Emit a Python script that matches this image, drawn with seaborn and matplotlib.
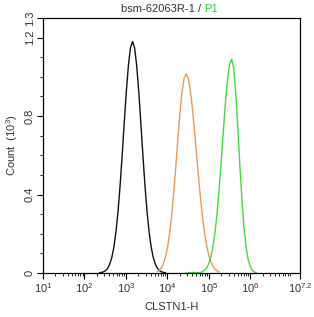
import matplotlib
matplotlib.use("Agg")
import matplotlib.pyplot as plt
import numpy as np
import pandas as pd
import seaborn as sns
from matplotlib.ticker import FixedLocator, LogLocator, MultipleLocator, NullFormatter

TEXT_COLOR = "#333333"
COLORS = {"black": "#111111", "orange": "#eb9a58", "green": "#40dc40"}

# log10 intensity positions and counts (x 10^3)
black_log = [2.36, 2.41, 2.46, 2.51, 2.56, 2.61, 2.66, 2.71, 2.76, 2.81, 2.86, 2.91, 2.96,
             3.01, 3.06, 3.11, 3.16, 3.21, 3.26, 3.31, 3.36, 3.41, 3.46, 3.51, 3.56,
             3.61, 3.66, 3.71, 3.76, 3.81, 3.86, 3.91, 3.96]
black_count = [0.001, 0.003, 0.006, 0.012, 0.024, 0.045, 0.079, 0.132, 0.209, 0.314, 0.446,
               0.601, 0.766, 0.925, 1.058, 1.148, 1.18, 1.148, 1.058, 0.925, 0.766, 0.601,
               0.446, 0.314, 0.209, 0.132, 0.079, 0.045, 0.024, 0.012, 0.006, 0.003, 0.001]

orange_log = [3.75, 3.80, 3.85, 3.90, 3.95, 4.00, 4.05, 4.10, 4.15, 4.20, 4.25, 4.30, 4.35,
              4.40, 4.45, 4.50, 4.55, 4.60, 4.65, 4.70, 4.75, 4.80, 4.85, 4.90, 4.95,
              5.00, 5.05, 5.10, 5.15, 5.20, 5.25]
orange_count = [0.006, 0.013, 0.024, 0.045, 0.077, 0.125, 0.194, 0.286, 0.401, 0.532, 0.672,
                0.805, 0.916, 0.99, 1.015, 0.995, 0.937, 0.848, 0.737, 0.616, 0.494, 0.381,
                0.282, 0.201, 0.137, 0.090, 0.057, 0.035, 0.020, 0.011, 0.006]

green_log = [4.45, 4.55, 4.65, 4.75, 4.80, 4.85, 4.90, 4.95, 5.00, 5.05, 5.10, 5.15, 5.20,
             5.25, 5.30, 5.35, 5.40, 5.45, 5.50, 5.55, 5.60, 5.65, 5.70, 5.75, 5.80,
             5.85, 5.90, 5.95, 6.00, 6.05, 6.10, 6.15]
green_count = [0.0, 0.002, 0.003, 0.0015, 0.003, 0.007, 0.014, 0.026, 0.048, 0.083, 0.134,
               0.208, 0.307, 0.431, 0.571, 0.722, 0.864, 0.983, 1.063, 1.09, 1.044, 0.917,
               0.739, 0.545, 0.370, 0.230, 0.131, 0.069, 0.033, 0.014, 0.005, 0.002]

x_tick_pos = [1, 2, 3, 4, 5, 6, 7.2]
x_tick_labels = ["$10^{1}$", "$10^{2}$", "$10^{3}$", "$10^{4}$", "$10^{5}$", "$10^{6}$", "$10^{7.2}$"]
y_tick_pos = [0, 0.4, 0.8, 1.2, 1.3]
y_tick_labels = ["0", "0.4", "0.8", "1.2", "1.3"]

sns.set_theme(style="ticks")
plt.rcParams["font.family"] = ["Liberation Sans", "DejaVu Sans"]
plt.rcParams["mathtext.fontset"] = "custom"
plt.rcParams["mathtext.rm"] = "Liberation Sans"
plt.rcParams["mathtext.it"] = "Liberation Sans"

frames = []
for name, lg, cnt in [("black", black_log, black_count),
                      ("orange", orange_log, orange_count),
                      ("green", green_log, green_count)]:
    frames.append(pd.DataFrame({"intensity": 10 ** np.array(lg), "count": cnt, "sample": name}))
df = pd.concat(frames, ignore_index=True)

fig = plt.figure(figsize=(3.14, 3.17), dpi=100)
ax = fig.add_axes([43 / 314, 44 / 317, 257 / 314, 255 / 317])

sns.lineplot(data=df, x="intensity", y="count", hue="sample", palette=COLORS,
             linewidth=1.0, legend=False, ax=ax, sort=True)

ax.set_xscale("log")
ax.set_xlim(10 ** 1, 10 ** 7.2)
ax.set_ylim(0, 1.3)

ax.xaxis.set_major_locator(FixedLocator([10 ** p for p in x_tick_pos]))
ax.set_xticklabels(x_tick_labels)
ax.xaxis.set_minor_locator(LogLocator(base=10, subs=np.arange(2, 10), numticks=20))
ax.xaxis.set_minor_formatter(NullFormatter())

ax.yaxis.set_major_locator(FixedLocator(y_tick_pos))
ax.set_yticklabels(y_tick_labels, rotation=90, va="center")
ax.yaxis.set_minor_locator(MultipleLocator(0.1))

for s in ax.spines.values():
    s.set_visible(True)
    s.set_color("black")
    s.set_linewidth(0.9)

ax.tick_params(axis="both", which="major", length=4, width=0.8, colors="black",
               labelcolor=TEXT_COLOR, labelsize=8, pad=2)
ax.tick_params(axis="both", which="minor", length=2, width=0.6, colors="black")
ax.tick_params(top=False, right=False, which="both")

ax.set_xlabel("CLSTN1-H", fontsize=8, color=TEXT_COLOR, labelpad=5)
ax.set_ylabel("Count  ($10^{3}$)", fontsize=8, color=TEXT_COLOR, labelpad=3)

fig.text(201 / 314, 1 - 9 / 317, "bsm-62063R-1 /", ha="right", va="center",
         fontsize=8, color=TEXT_COLOR)
fig.text(204 / 314, 1 - 9 / 317, "P1", ha="left", va="center",
         fontsize=8, color="#33cc33")

fig.savefig("out.png", dpi=100)
